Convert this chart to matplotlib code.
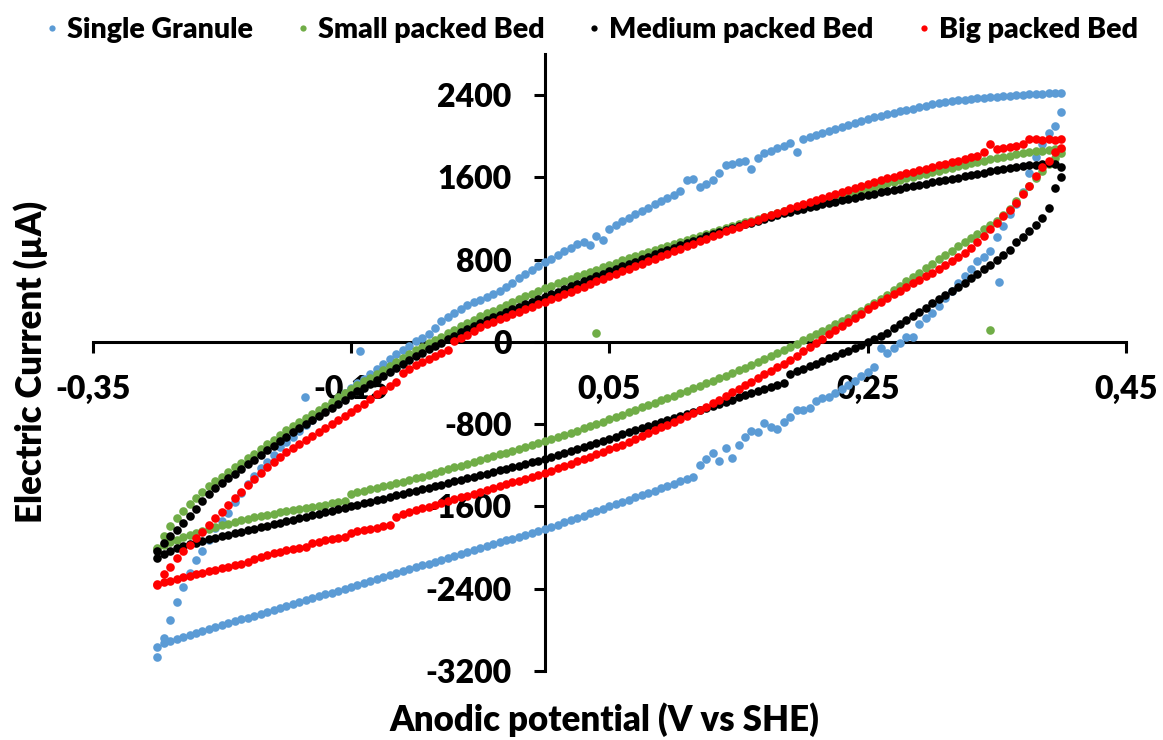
import numpy as np
import matplotlib
matplotlib.use("Agg")
import matplotlib.pyplot as plt
from matplotlib.lines import Line2D
from matplotlib import font_manager

plt.rcParams['font.family'] = ['Lato', 'DejaVu Sans']

# pick the heaviest weight available for Lato (Calibri Bold look-alike)
_weights = [f.weight for f in font_manager.fontManager.ttflist if f.name == 'Lato']
_numeric = []
for w in _weights:
    try:
        _numeric.append(int(w))
    except (TypeError, ValueError):
        _numeric.append({'bold': 700, 'heavy': 800, 'black': 900, 'semibold': 600}.get(str(w), 400))
WEIGHT = 800 if 800 in _numeric else 'bold'

# ---------------- data ----------------
SERIES = ["Single Granule", "Small packed Bed", "Medium packed Bed", "Big packed Bed"]
COLORS = ["#5B9BD5", "#70AD47", "#000000", "#FF0000"]

# Potential grid (V vs SHE) shared by both sweep branches
POTENTIAL = [
    -0.300, -0.295, -0.290, -0.285, -0.280, -0.275, -0.270, -0.265, -0.260, -0.255,
    -0.250, -0.245, -0.240, -0.235, -0.230, -0.225, -0.220, -0.215, -0.210, -0.205,
    -0.200, -0.195, -0.190, -0.185, -0.180, -0.175, -0.170, -0.165, -0.160, -0.155,
    -0.150, -0.145, -0.140, -0.135, -0.130, -0.125, -0.120, -0.115, -0.110, -0.105,
    -0.100, -0.095, -0.090, -0.085, -0.080, -0.075, -0.070, -0.065, -0.060, -0.055,
    -0.050, -0.045, -0.040, -0.035, -0.030, -0.025, -0.020, -0.015, -0.010, -0.005,
    0.000, 0.005, 0.010, 0.015, 0.020, 0.025, 0.030, 0.035, 0.040, 0.045,
    0.050, 0.055, 0.060, 0.065, 0.070, 0.075, 0.080, 0.085, 0.090, 0.095,
    0.100, 0.105, 0.110, 0.115, 0.120, 0.125, 0.130, 0.135, 0.140, 0.145,
    0.150, 0.155, 0.160, 0.165, 0.170, 0.175, 0.180, 0.185, 0.190, 0.195,
    0.200, 0.205, 0.210, 0.215, 0.220, 0.225, 0.230, 0.235, 0.240, 0.245,
    0.250, 0.255, 0.260, 0.265, 0.270, 0.275, 0.280, 0.285, 0.290, 0.295,
    0.300, 0.305, 0.310, 0.315, 0.320, 0.325, 0.330, 0.335, 0.340, 0.345,
    0.350, 0.355, 0.360, 0.365, 0.370, 0.375, 0.380, 0.385, 0.390, 0.395,
    0.400]

# Current (uA), forward (upper) branch, listed in ascending potential
SINGLE_UP = [
    -3060, -2880, -2700, -2530, -2380, -2250, -2120, -2030, -1930, -1810,
    -1740, -1660, -1560, -1470, -1380, -1300, -1230, -1170, -1100, -1020,
    -970, -920, -870, -810, -760, -700, -650, -600, -550, -500,
    -450, -400, -360, -310, -260, -215, -170, -120, -80, -35,
    5, 40, 80, 135, 200, 240, 280, 320, 360, 385,
    410, 440, 470, 500, 530, 570, 620, 660, 700, 740,
    780, 810, 850, 880, 915, 950, 970, 945, 1030, 990,
    1100, 1140, 1180, 1210, 1240, 1270, 1300, 1340, 1370, 1400,
    1430, 1470, 1570, 1580, 1510, 1540, 1570, 1640, 1720, 1730,
    1745, 1760, 1680, 1790, 1840, 1860, 1890, 1910, 1935, 1850,
    1975, 1995, 2015, 2035, 2055, 2075, 2090, 2110, 2130, 2150,
    2170, 2187, 2200, 2215, 2230, 2245, 2255, 2270, 2285, 2298,
    2310, 2322, 2332, 2342, 2350, 2357, 2362, 2368, 2375, 2381,
    2386, 2391, 2395, 2400, 2404, 2407, 2410, 2413, 2416, 2419,
    2422]
# reverse (lower) branch, listed in ascending potential
SINGLE_DN = [
    -2965, -2930, -2905, -2887, -2868, -2849, -2830, -2812, -2793, -2774,
    -2755, -2737, -2718, -2699, -2680, -2662, -2643, -2624, -2605, -2587,
    -2568, -2549, -2530, -2512, -2493, -2474, -2455, -2437, -2418, -2399,
    -2380, -2362, -2343, -2324, -2305, -2287, -2268, -2249, -2230, -2212,
    -2193, -2174, -2155, -2137, -2118, -2099, -2080, -2062, -2043, -2024,
    -2005, -1987, -1968, -1949, -1930, -1912, -1893, -1874, -1856, -1837,
    -1818, -1797, -1776, -1754, -1732, -1710, -1688, -1666, -1644, -1622,
    -1600, -1578, -1556, -1534, -1512, -1490, -1468, -1446, -1424, -1402,
    -1380, -1357, -1335, -1312, -1200, -1140, -1080, -1160, -1030, -1130,
    -1000, -920, -870, -880, -790, -830, -850, -780, -730, -665,
    -660, -640, -570, -550, -535, -500, -460, -420, -380, -330,
    -290, -240, -60, -110, -60, -10, 50, 45, 170, 230,
    285, 350, 430, 500, 570, 640, 710, 790, 830, 880,
    1020, 1130, 1240, 1340, 1460, 1640, 1800, 1920, 2030, 2100,
    2240]

SMALL_UP = [
    -2010, -1890, -1790, -1710, -1640, -1575, -1515, -1458, -1405, -1355,
    -1310, -1265, -1220, -1175, -1130, -1085, -1040, -995, -950, -905,
    -860, -820, -780, -740, -700, -660, -620, -580, -540, -500,
    -460, -422, -384, -346, -308, -270, -232, -194, -156, -118,
    -80, -47, -14, 19, 52, 85, 118, 151, 184, 217,
    250, 278, 305, 333, 360, 388, 415, 443, 470, 498,
    525, 548, 571, 594, 616, 638, 660, 682, 704, 726,
    748, 770, 792, 813, 833, 853, 873, 893, 913, 933,
    953, 973, 993, 1013, 1033, 1053, 1072, 1090, 1108, 1126,
    1144, 1162, 1180, 1198, 1216, 1234, 1252, 1270, 1288, 1306,
    1323, 1340, 1357, 1374, 1391, 1408, 1425, 1442, 1459, 1476,
    1493, 1510, 1527, 1544, 1560, 1575, 1590, 1605, 1620, 1635,
    1650, 1665, 1680, 1694, 1708, 1722, 1736, 1750, 1764, 1778,
    1790, 1801, 1812, 1823, 1833, 1843, 1852, 1861, 1868, 1875,
    1880]
SMALL_DN = [
    -2000, -1975, -1950, -1925, -1900, -1880, -1860, -1840, -1820, -1802,
    -1784, -1767, -1750, -1733, -1718, -1706, -1694, -1682, -1670, -1658,
    -1648, -1638, -1627, -1616, -1605, -1594, -1582, -1570, -1558, -1545,
    -1478, -1463, -1448, -1433, -1418, -1403, -1388, -1373, -1358, -1343,
    -1327, -1310, -1292, -1274, -1256, -1238, -1220, -1202, -1184, -1166,
    -1148, -1130, -1112, -1094, -1076, -1058, -1040, -1022, -1004, -986,
    -968, -948, -927, -906, -885, -863, -841, -819, -797, -775,
    -752, -729, -706, -683, -660, -637, -614, -591, -568, -545,
    -522, -499, -475, -451, -427, -403, -378, -353, -328, -302,
    -276, -250, -224, -196, -168, -140, -110, -80, -49, -17,
    15, 45, 75, 108, 140, 172, 205, 237, 270, 305,
    340, 380, 420, 460, 503, 547, 590, 632, 675, 718,
    762, 804, 846, 888, 930, 970, 1012, 1053, 1095, 1137,
    1180, 1230, 1290, 1370, 1450, 1520, 1590, 1665, 1730, 1790,
    1840]

MEDIUM_UP = [
    -2030, -1960, -1890, -1825, -1760, -1690, -1620, -1545, -1480, -1420,
    -1370, -1325, -1280, -1235, -1190, -1145, -1100, -1055, -1010, -965,
    -920, -880, -840, -800, -760, -720, -680, -640, -600, -560,
    -520, -482, -444, -406, -368, -330, -292, -254, -216, -178,
    -140, -106, -72, -39, -6, 27, 60, 92, 124, 156,
    188, 214, 240, 266, 292, 318, 343, 368, 392, 416,
    440, 465, 490, 515, 540, 565, 590, 614, 638, 662,
    686, 710, 734, 757, 780, 805, 829, 851, 873, 895,
    917, 939, 961, 983, 1005, 1026, 1047, 1066, 1085, 1104,
    1123, 1142, 1160, 1178, 1196, 1214, 1232, 1250, 1267, 1281,
    1295, 1309, 1323, 1337, 1351, 1365, 1378, 1391, 1404, 1417,
    1430, 1443, 1455, 1467, 1479, 1491, 1503, 1515, 1527, 1539,
    1551, 1563, 1575, 1587, 1599, 1611, 1623, 1635, 1647, 1659,
    1670, 1680, 1690, 1699, 1708, 1716, 1724, 1731, 1737, 1735,
    1700]
MEDIUM_DN = [
    -2100, -2060, -2030, -2005, -1985, -1968, -1952, -1936, -1921, -1906,
    -1891, -1876, -1861, -1846, -1831, -1816, -1801, -1787, -1772, -1758,
    -1743, -1729, -1714, -1700, -1685, -1671, -1656, -1642, -1627, -1613,
    -1598, -1583, -1568, -1553, -1538, -1523, -1508, -1493, -1478, -1463,
    -1448, -1433, -1418, -1403, -1388, -1372, -1357, -1342, -1327, -1311,
    -1296, -1280, -1265, -1249, -1234, -1218, -1203, -1187, -1172, -1156,
    -1140, -1120, -1100, -1080, -1060, -1040, -1020, -1000, -980, -960,
    -940, -920, -900, -880, -860, -840, -820, -800, -780, -760,
    -740, -720, -700, -680, -660, -640, -620, -600, -580, -560,
    -540, -520, -500, -480, -460, -440, -420, -400, -315, -285,
    -260, -235, -210, -185, -160, -135, -110, -85, -60, -30,
    0, 30, 60, 88, 135, 170, 210, 250, 290, 330,
    375, 415, 455, 495, 535, 575, 620, 660, 705, 749,
    795, 850, 895, 970, 1021, 1080, 1140, 1205, 1300, 1500,
    1600]

BIG_UP = [
    -2350, -2260, -2190, -2105, -2030, -1970, -1910, -1845, -1780, -1715,
    -1650, -1585, -1520, -1455, -1390, -1330, -1275, -1220, -1170, -1120,
    -1075, -1035, -995, -955, -915, -877, -840, -800, -760, -720,
    -680, -640, -600, -555, -510, -467, -425, -385, -300, -262,
    -224, -192, -162, -133, -105, -78, 10, 39, 72, 108,
    146, 170, 195, 219, 243, 268, 292, 316, 340, 365,
    389, 414, 439, 464, 489, 514, 539, 564, 589, 614,
    639, 664, 689, 714, 738, 762, 786, 810, 835, 859,
    883, 907, 932, 956, 980, 1005, 1029, 1052, 1075, 1098,
    1121, 1144, 1167, 1189, 1211, 1233, 1255, 1277, 1298, 1318,
    1338, 1358, 1378, 1398, 1418, 1438, 1457, 1476, 1495, 1514,
    1533, 1552, 1571, 1590, 1608, 1624, 1639, 1655, 1670, 1686,
    1701, 1717, 1732, 1748, 1763, 1779, 1795, 1810, 1847, 1920,
    1880, 1890, 1900, 1910, 1920, 1970, 1975, 1968, 1975, 1960,
    1975]
BIG_DN = [
    -2360, -2335, -2320, -2305, -2290, -2275, -2260, -2245, -2230, -2215,
    -2200, -2185, -2170, -2155, -2140, -2115, -2095, -2075, -2055, -2040,
    -2027, -2015, -2003, -1993, -1952, -1942, -1930, -1920, -1910, -1900,
    -1855, -1843, -1830, -1818, -1805, -1790, -1780, -1700, -1678, -1655,
    -1637, -1619, -1601, -1583, -1566, -1548, -1530, -1512, -1494, -1476,
    -1458, -1440, -1421, -1403, -1384, -1366, -1348, -1329, -1311, -1292,
    -1274, -1252, -1230, -1207, -1184, -1161, -1138, -1115, -1092, -1069,
    -1046, -1023, -1000, -977, -948, -919, -890, -861, -832, -803,
    -774, -745, -716, -687, -658, -630, -595, -560, -525, -490,
    -455, -420, -385, -350, -315, -280, -245, -210, -175, -133,
    -92, -51, -10, 31, 75, 115, 155, 195, 235, 275,
    317, 355, 393, 430, 465, 500, 535, 570, 605, 640,
    675, 712, 750, 790, 830, 865, 915, 970, 1030, 1095,
    1160, 1220, 1280, 1350, 1440, 1520, 1610, 1700, 1760, 1850,
    1890]

# isolated stray points
SINGLE_EXTRA_V = [-0.186, -0.143, 0.352]
SINGLE_EXTRA_I = [-540, -90, 583]
SMALL_EXTRA_V = [0.040, 0.345]
SMALL_EXTRA_I = [88, 117]

X_TICKS = [-0.35, -0.15, 0.05, 0.25, 0.45]
X_TICK_LABELS = ["-0,35", "-0,15", "0,05", "0,25", "0,45"]
Y_TICKS = [-3200, -2400, -1600, -800, 0, 800, 1600, 2400]

for arr in (SINGLE_UP, SINGLE_DN, SMALL_UP, SMALL_DN, MEDIUM_UP, MEDIUM_DN, BIG_UP, BIG_DN):
    assert len(arr) == len(POTENTIAL), len(arr)

# ---------------- figure ----------------
W, H = 1163, 740
fig = plt.figure(figsize=(W / 100, H / 100), dpi=100)
ax = fig.add_axes([92.7 / W, (H - 671) / H, 1033.3 / W, 617 / H])
ax.set_xlim(-0.35, 0.45)
ax.set_ylim(-3200, 2800)

series_data = [
    (SINGLE_UP, SINGLE_DN, SINGLE_EXTRA_V, SINGLE_EXTRA_I),
    (SMALL_UP, SMALL_DN, SMALL_EXTRA_V, SMALL_EXTRA_I),
    (MEDIUM_UP, MEDIUM_DN, [], []),
    (BIG_UP, BIG_DN, [], []),
]
for name, color, (up, dn, ev, ei) in zip(SERIES, COLORS, series_data):
    xs = list(POTENTIAL) + list(POTENTIAL) + list(ev)
    ys = list(up) + list(dn) + list(ei)
    ax.plot(xs, ys, linestyle='none', marker='o', ms=6.2, mew=0,
            color=color, label=name, zorder=3, clip_on=False)

for s in ('top', 'right'):
    ax.spines[s].set_visible(False)
ax.spines['left'].set_position(('data', 0))
ax.spines['bottom'].set_position(('data', 0))
for s in ('left', 'bottom'):
    ax.spines[s].set_linewidth(2.2)
    ax.spines[s].set_zorder(2)

ax.set_xticks(X_TICKS)
ax.set_xticklabels(X_TICK_LABELS)
ax.set_yticks(Y_TICKS)
ax.set_yticklabels([str(v) for v in Y_TICKS])
ax.tick_params(axis='both', direction='out', length=8, width=2.2,
               labelsize=23, pad=16)
for lab in ax.get_xticklabels() + ax.get_yticklabels():
    lab.set_fontweight(WEIGHT)

fig.text(604 / W, 1 - 720 / H, "Anodic potential (V vs SHE)", ha='center', va='center',
         fontsize=25, fontweight=WEIGHT)
fig.text(31 / W, 1 - 362 / H, "Electric Current (µA)", ha='center', va='center',
         rotation=90, fontsize=25, fontweight=WEIGHT)

handles = [Line2D([], [], linestyle='none', marker='o', ms=4.5, mew=0, color=c)
           for c in COLORS]
leg = fig.legend(handles, SERIES, loc='center', bbox_to_anchor=(592 / W, 1 - 30 / H),
                 ncol=4, frameon=False, fontsize=20.5, handlelength=0.4,
                 handletextpad=0.33, columnspacing=1.55, borderaxespad=0,
                 borderpad=0)
for t in leg.get_texts():
    t.set_fontweight(WEIGHT)

fig.savefig("out.png", dpi=100)
